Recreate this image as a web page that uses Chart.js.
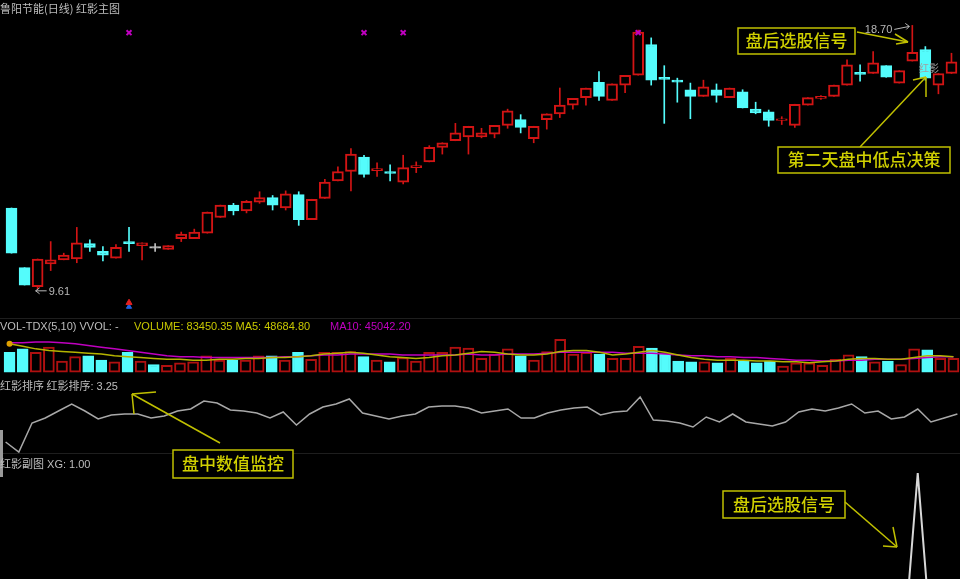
<!DOCTYPE html>
<html>
<head>
<meta charset="utf-8">
<script src="https://cdn.jsdelivr.net/npm/chart.js@4.4.1/dist/chart.umd.min.js"></script>
<style>
  html, body { margin: 0; padding: 0; background: #000; width: 960px; height: 579px; overflow: hidden; position: relative; }
  .pane { position: absolute; left: -1px; }
  .pane canvas { display: block; }
  .sep { position: absolute; left: 0; width: 960px; height: 1px; background: #1e1e1e; }
  .hdr { position: absolute; font: 11px "Liberation Sans", "Noto Sans CJK SC", sans-serif; white-space: nowrap; color: #bdbdbd; line-height: 12px; }
  .cjk { font-family: "Noto Sans CJK SC", sans-serif; }
  svg { position: absolute; left: 0; top: 0; }
</style>
</head>
<body>

<div class="pane" style="top:0"><canvas id="mainChart" width="965" height="318"></canvas></div>
<div class="pane" style="top:318px"><canvas id="volChart" width="965" height="60"></canvas></div>
<div class="pane" style="top:378px"><canvas id="rankChart" width="965" height="77"></canvas></div>
<div class="pane" style="top:455px"><canvas id="xgChart" width="965" height="124"></canvas></div>

<div class="sep" style="top:318px"></div>
<div class="sep" style="top:453px"></div>
<div style="position:absolute;left:0;top:430px;width:3px;height:47px;background:#9a9a9a"></div>

<div class="hdr cjk" style="left:0;top:2px">鲁阳节能(日线) 红影主图</div>
<div class="hdr" style="left:0;top:320px">VOL-TDX(5,10) VVOL: -</div>
<div class="hdr" style="left:134px;top:320px;color:#c8c800">VOLUME: 83450.35 MA5: 48684.80</div>
<div class="hdr" style="left:330px;top:320px;color:#c000c0">MA10: 45042.20</div>
<div class="hdr" style="left:0;top:379px"><span class="cjk">红影排序 红影排序</span>: 3.25</div>
<div class="hdr" style="left:0;top:457px"><span class="cjk">红影副图</span> XG: 1.00</div>

<svg width="960" height="579" id="notes"></svg>

<script>
// 日线数据 (73根K线)
const open  = [12.40,10.34,9.68,10.47,10.61,10.64,11.17,10.90,10.67,11.24,11.10,11.04,10.97,11.34,11.34,11.53,12.07,12.50,12.30,12.60,12.76,12.40,12.86,12.00,12.73,13.33,13.66,14.16,13.69,13.66,13.29,13.79,13.99,14.49,14.72,14.85,14.85,14.95,15.25,15.45,14.79,15.45,15.65,15.95,16.21,16.74,16.11,16.64,16.98,18.04,16.91,16.81,16.48,16.25,16.48,16.21,16.41,15.81,15.72,15.42,15.25,15.95,16.18,16.25,16.64,17.08,17.04,17.31,16.71,17.47,17.87,16.64,17.04];
const high  = [12.40,10.34,10.64,11.24,10.84,11.73,11.30,11.07,11.14,11.73,11.20,11.17,11.10,11.57,11.67,12.26,12.50,12.56,12.66,12.96,12.83,12.99,12.96,12.70,13.39,13.82,14.45,14.22,13.96,13.89,14.22,13.99,14.55,14.65,15.32,15.22,15.15,15.25,15.81,15.62,15.22,15.65,16.54,16.18,16.54,17.11,16.68,16.98,18.54,18.27,17.31,16.88,16.71,16.81,16.68,16.54,16.48,16.05,15.78,15.55,15.98,16.21,16.28,16.64,17.51,17.34,17.80,17.31,17.14,18.70,17.97,17.04,17.74];
const low   = [10.84,9.74,9.61,10.24,10.61,10.51,10.90,10.57,10.67,10.90,10.61,10.90,10.97,11.24,11.34,11.53,12.07,12.16,12.23,12.56,12.33,12.33,11.80,12.00,12.73,13.33,12.99,13.46,13.49,13.33,13.23,13.62,13.99,14.26,14.72,14.26,14.82,14.82,15.15,14.99,14.65,15.12,15.52,15.81,15.95,16.11,16.11,16.38,16.98,16.64,15.32,16.05,15.48,16.25,16.05,16.21,15.85,15.65,15.22,15.28,15.18,15.95,16.15,16.25,16.64,16.78,17.04,16.91,16.71,17.47,16.81,16.34,17.04];
const close = [10.84,9.74,10.64,10.61,10.77,11.20,11.04,10.77,11.04,11.17,11.20,11.04,11.10,11.50,11.57,12.26,12.50,12.30,12.63,12.76,12.50,12.89,12.00,12.70,13.29,13.66,14.26,13.56,13.76,13.59,13.79,13.86,14.49,14.65,14.99,15.22,14.99,15.25,15.75,15.18,15.22,15.65,15.95,16.18,16.54,16.25,16.68,16.98,18.47,16.81,16.84,16.74,16.25,16.58,16.28,16.54,15.85,15.68,15.42,15.48,15.98,16.21,16.25,16.64,17.34,17.01,17.41,16.91,17.14,17.77,16.88,17.04,17.44];

// 成交量与均线
const volume = [119900,140800,119900,151200,67800,93900,99100,73000,62600,119900,67800,46900,41700,57400,62600,99100,73000,73000,73000,99100,99100,73000,119900,78200,119900,119900,125200,93900,73000,62600,88700,67800,119900,119900,151200,146000,83400,109500,140800,99100,73000,125200,198200,109500,119900,109500,83400,83400,156500,146000,109500,67800,62600,62600,57400,83400,67800,57400,67800,36500,57400,57400,41700,78200,104300,93900,62600,67800,46900,140800,135600,83400,83450];
const ma5 = [172100,156500,140800,130400,125200,119900,114700,109500,99100,93900,88700,83400,78200,78200,73000,73000,78200,78200,83400,83400,88700,88700,93900,99100,109500,114700,119900,114700,104300,93900,88700,83400,88700,99100,104300,114700,125200,119900,109500,104300,104300,109500,125200,130400,130400,119900,104300,109500,119900,130400,119900,104300,88700,78200,73000,73000,73000,67800,67800,62600,62600,57400,62600,67800,78200,83400,83400,78200,78200,88700,99100,99100,93900];
const ma10 = [177300,177300,182500,182500,177300,172100,161700,151200,140800,130400,119900,109500,99100,93900,93900,88700,88700,88700,88700,88700,88700,93900,93900,99100,104300,104300,109500,109500,109500,109500,104300,104300,104300,104300,104300,109500,104300,104300,109500,109500,109500,114700,119900,119900,119900,119900,119900,114700,114700,114700,109500,104300,99100,99100,93900,93900,88700,88700,83400,78200,73000,73000,67800,67800,73000,73000,78200,78200,78200,83400,88700,93900,93900];

// 红影排序
const rankVals = [1.85,1.35,2.80,3.05,3.40,3.75,3.40,3.00,3.20,3.25,3.25,3.05,3.15,3.40,3.50,3.90,3.80,3.45,3.40,3.30,3.05,3.35,2.70,3.25,3.60,3.75,4.00,3.30,3.15,3.00,3.15,3.25,3.60,3.65,3.65,3.55,3.30,3.40,3.50,3.05,3.05,3.30,3.45,3.55,3.60,3.20,3.35,3.40,4.10,2.95,2.90,2.80,2.60,3.10,2.85,3.25,2.85,2.75,2.65,2.85,3.35,3.50,3.40,3.55,3.75,3.30,3.40,3.00,3.10,3.50,2.85,3.05,3.25];

// XG 信号 (盘后选股)
const xgIdx = [69];
// 主图标记
const signalIdx = [9, 27, 30, 48];
const signalLevel = 18.45;
const trigIdx = [9];

const labels = open.map((_, i) => String(i));
const RED = '#d21414', CYAN = '#54fcfc', GRAY = '#c0c0c0';

const up = open.map((o, i) => close[i] > o);
const flat = open.map((o, i) => close[i] === o);
const candleColor = open.map((o, i) => flat[i] ? GRAY : (up[i] ? RED : CYAN));

const wickData = low.map((l, i) => [l, high[i]]);
const bodyData = open.map((o, i) => {
  let a = Math.min(o, close[i]), b = Math.max(o, close[i]);
  if (b - a < 0.05) { const m = (a + b) / 2; a = m - 0.025; b = m + 0.025; }
  return [a, b];
});
const sparse = (idx, v) => labels.map((_, i) => idx.includes(i) ? v : null);

const common = {
  responsive: false,
  animation: false,
  events: [],
  layout: { padding: 0 },
  plugins: { legend: { display: false }, tooltip: { enabled: false } }
};
const xAxis = { type: 'category', offset: true, display: false, grid: { display: false } };

// 最高/最低价标注
const hiLoLabels = {
  id: 'hiLoLabels',
  afterDatasetsDraw(chart) {
    const { ctx, scales: { x, y } } = chart;
    const hi = high.indexOf(Math.max(...high));
    const lo = low.indexOf(Math.min(...low));
    ctx.save();
    ctx.font = '11px "Liberation Sans", sans-serif';
    ctx.fillStyle = '#b8b8b8';
    ctx.strokeStyle = '#b8b8b8';
    ctx.lineWidth = 1;
    let px = x.getPixelForValue(hi), py = y.getPixelForValue(high[hi]);
    ctx.textAlign = 'right'; ctx.textBaseline = 'middle';
    ctx.fillText(high[hi].toFixed(2), px - 20, py + 5);
    ctx.beginPath();
    ctx.moveTo(px - 18, py + 4); ctx.lineTo(px - 3, py + 1);
    ctx.moveTo(px - 3, py + 1); ctx.lineTo(px - 7, py - 2);
    ctx.moveTo(px - 3, py + 1); ctx.lineTo(px - 6, py + 4);
    ctx.stroke();
    px = x.getPixelForValue(lo); py = y.getPixelForValue(low[lo]);
    ctx.textAlign = 'left';
    ctx.fillText(low[lo].toFixed(2), px + 11, py + 3);
    ctx.beginPath();
    ctx.moveTo(px + 9, py + 2); ctx.lineTo(px - 2, py + 2);
    ctx.moveTo(px - 2, py + 2); ctx.lineTo(px + 2, py - 1);
    ctx.moveTo(px - 2, py + 2); ctx.lineTo(px + 2, py + 5);
    ctx.stroke();
    ctx.restore();
  }
};

new Chart(document.getElementById('mainChart'), {
  type: 'bar',
  data: {
    labels: labels,
    datasets: [
      { data: wickData, backgroundColor: candleColor, barThickness: 1, grouped: false, order: 3 },
      { data: bodyData, backgroundColor: up.map((u, i) => flat[i] ? GRAY : (u ? '#000' : CYAN)),
        borderColor: candleColor, borderWidth: 2, borderSkipped: false, barThickness: 11, grouped: false, order: 2 },
      { type: 'line', data: sparse(signalIdx, signalLevel), showLine: false, pointStyle: 'crossRot',
        pointRadius: 3.5, borderColor: '#c000c0', borderWidth: 2, order: 1 },
      { type: 'line', data: sparse(trigIdx, 9.13), showLine: false, pointStyle: 'triangle',
        pointRadius: 3.5, backgroundColor: '#e02020', borderColor: '#e02020', order: 1 },
      { type: 'line', data: sparse(trigIdx, 8.99), showLine: false, pointStyle: 'triangle',
        pointRadius: 3, backgroundColor: '#2060e0', borderColor: '#2060e0', order: 1 }
    ]
  },
  options: { ...common, scales: { x: xAxis, y: { min: 8.81, max: 19.37, display: false } } },
  plugins: [hiLoLabels]
});

new Chart(document.getElementById('volChart'), {
  type: 'bar',
  data: {
    labels: labels,
    datasets: [
      { type: 'line', data: ma10, borderColor: '#c000c0', borderWidth: 1.5, pointRadius: 0, order: 1 },
      { type: 'line', data: ma5, borderColor: '#b4b400', borderWidth: 1.5,
        pointRadius: ma5.map((_, i) => i === 0 ? 3 : 0), pointBackgroundColor: '#e0a000', pointBorderWidth: 0, order: 0 },
      { data: volume, backgroundColor: up.map(u => u ? '#000' : CYAN),
        borderColor: up.map(u => u ? '#b01010' : CYAN), borderWidth: 2, borderSkipped: false,
        barThickness: 11, order: 2 }
    ]
  },
  options: { ...common, scales: { x: xAxis, y: { min: -10430, max: 302470, display: false } } }
});

new Chart(document.getElementById('rankChart'), {
  type: 'line',
  data: { labels: labels, datasets: [
    { data: rankVals, borderColor: '#a8a8a8', borderWidth: 1.5, pointRadius: 0, tension: 0 }
  ] },
  options: { ...common, scales: { x: xAxis, y: { min: 1.2, max: 5.05, display: false } } }
});

new Chart(document.getElementById('xgChart'), {
  type: 'line',
  data: { labels: labels, datasets: [
    { data: labels.map((_, i) => xgIdx.includes(i) ? 1 : 0), borderColor: '#d8d8d8', borderWidth: 2, pointRadius: 0, tension: 0 }
  ] },
  options: { ...common, scales: { x: xAxis, y: { min: 0.358, max: 1.109, display: false } } }
});

// 黄色注释框与箭头
const notes = [
  { text: '盘后选股信号', x: 738, y: 28, w: 117, h: 26, line: [857, 32, 908, 42], head: [[895, 34], [896, 44]] },
  { text: '第二天盘中低点决策', x: 778, y: 147, w: 172, h: 26, line: [860, 147, 926, 77], head: [[913, 80], [926, 97]] },
  { text: '盘中数值监控', x: 173, y: 450, w: 120, h: 28, line: [220, 443, 132, 394], head: [[156, 392], [134, 414]] },
  { text: '盘后选股信号', x: 723, y: 491, w: 122, h: 27, line: [845, 502, 897, 547], head: [[883, 546], [893, 527]] }
];
const svg = document.getElementById('notes');
let s = '<text x="919" y="72" font-family="Noto Sans CJK SC" font-size="10" fill="#a0a0a0">红影</text>';
notes.forEach(n => {
  const [x1, y1, x2, y2] = n.line;
  s += `<rect x="${n.x}" y="${n.y}" width="${n.w}" height="${n.h}" fill="#000" stroke="#c0c000" stroke-width="1.5"/>`;
  s += `<text x="${n.x + n.w / 2}" y="${n.y + n.h / 2 + 6}" text-anchor="middle" font-family="Noto Sans CJK SC" font-size="17" font-weight="500" fill="#d0d000">${n.text}</text>`;
  s += `<line x1="${x1}" y1="${y1}" x2="${x2}" y2="${y2}" stroke="#c0c000" stroke-width="1.5"/>`;
  n.head.forEach(h => { s += `<line x1="${x2}" y1="${y2}" x2="${h[0]}" y2="${h[1]}" stroke="#c0c000" stroke-width="1.5"/>`; });
});
svg.innerHTML = s;
</script>
</body>
</html>
